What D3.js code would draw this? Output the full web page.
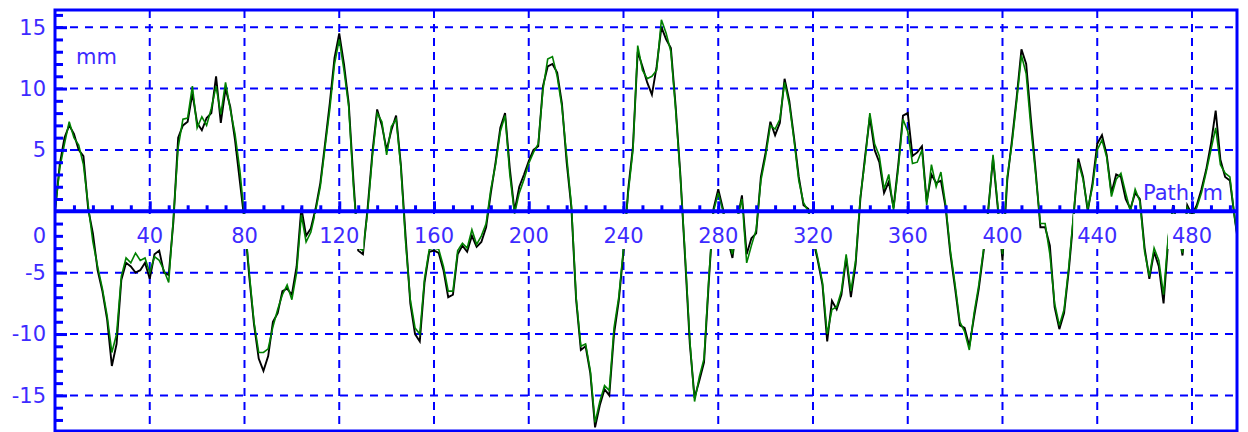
<!DOCTYPE html>
<html>
<head>
<meta charset="utf-8">
<script src="https://cdn.jsdelivr.net/npm/d3@7"></script>
<style>
    body { margin: 0; background: #ffffff; }
    text { font-family: "DejaVu Sans", Verdana, sans-serif; font-size: 21px; }
</style>
</head>
<body>
<div id="chart1"></div>
<script>
// path is sampled every 2 m, from 0 to 500
let pathStep = 2;

// green trace, mm
let greenValues = [
    0, 3.5, 5.5, 7.3, 6.0, 5.4, 3.8, 0.5, -2.5, -4.5,
    -6.3, -8.5, -11.5, -10.0, -5.3, -3.8, -4.2, -3.4, -4.0, -3.8,
    -5.0, -3.7, -4.0, -4.8, -5.8, -0.5, 5.2, 7.5, 7.6, 10.2,
    6.8, 7.7, 7.0, 8.4, 10.2, 7.9, 10.5, 8.3, 6.3, 3.4,
    -0.5, -5.0, -9.0, -11.5, -11.5, -11.2, -9.4, -8.0, -6.8, -6.0,
    -7.2, -5.0, -0.3, -2.5, -1.7, 0, 2.0, 5.2, 8.3, 12.0,
    14.0, 11.5, 8.5, 2.0, -3.0, -3.2, 0, 4.5, 8.0, 7.3,
    4.6, 6.9, 7.5, 3.6, -2.5, -7.2, -9.5, -10.0, -5.5, -3.1,
    -3.0, -3.1, -4.5, -6.5, -6.5, -3.2, -2.6, -3.0, -1.5, -2.7,
    -2.0, -1.0, 1.8, 3.8, 6.5, 7.8, 3.0, -0.2, 1.5, 2.6,
    3.9, 4.8, 5.5, 9.9, 12.4, 12.6, 11.0, 8.5, 4.5, 0.5,
    -7.0, -11.0, -10.8, -13.0, -17.2, -15.5, -14.2, -14.6, -9.5, -7.0,
    -3.0, 1.5, 5.0, 13.5, 11.5, 10.8, 11.0, 11.5, 15.6, 14.5,
    13.0, 8.3, 2.8, -3.5, -10.5, -15.5, -13.5, -12.0, -5.5, 0,
    1.5, 0, -2.0, -3.5, -0.5, 1.0, -4.2, -2.8, -1.5, 2.5,
    4.5, 7.0, 6.7, 7.5, 10.5, 8.7, 5.8, 2.5, 0.7, 0,
    -2.0, -3.8, -5.8, -10.0, -8.0, -7.8, -6.5, -3.5, -6.5, -4.0,
    1.2, 4.2, 8.0, 5.5, 4.5, 1.8, 3.0, 0.1, 3.5, 7.5,
    6.5, 3.9, 4.0, 5.0, 0.5, 3.8, 2.0, 3.2, 0.5, -3.2,
    -6.0, -9.0, -9.8, -11.3, -8.3, -6.0, -3.1, 0, 4.6, 0.5,
    -3.5, 2.8, 5.5, 9.0, 12.7, 11.2, 6.8, 3.0, -1.0, -1.0,
    -3.5, -7.5, -9.3, -8.0, -4.5, -0.2, 4.0, 2.6, 0.2, 2.0,
    5.0, 5.8, 4.4, 1.2, 2.6, 3.1, 1.5, 0, 1.8, 0.8,
    -3.3, -5.3, -3.0, -4.0, -6.8, -2.0, 0.3, -1.5, -3.4, 0.3,
    -0.5, 0.3, 1.5, 3.2, 5.0, 6.8, 3.8, 3.1, 2.8, -0.5,
    -3.1
];

// black trace, mm (mostly hidden under the green one)
let blackValues = [
    0, 3.8, 6.0, 7.0, 6.3, 5.0, 4.5, 0.2, -1.8, -4.8,
    -6.5, -8.8, -12.6, -10.8, -5.6, -4.2, -4.5, -5.0, -4.8, -4.2,
    -5.5, -3.5, -3.2, -5.0, -5.2, -0.8, 6.0, 7.0, 7.3, 9.6,
    7.2, 6.6, 7.6, 8.0, 11.0, 7.2, 10.0, 8.5, 5.8, 2.5,
    -0.8, -5.3, -9.2, -12.0, -13.0, -11.8, -9.0, -8.3, -6.5, -6.3,
    -6.8, -4.5, 0.3, -2.0, -1.4, 0.2, 2.3, 5.5, 8.8, 12.5,
    14.5, 12.0, 8.8, 2.5, -3.2, -3.5, 0.3, 4.8, 8.3, 7.0,
    5.0, 6.6, 7.8, 3.8, -2.0, -7.5, -10.0, -10.6, -5.8, -3.3,
    -3.2, -3.4, -4.8, -7.0, -6.8, -3.5, -2.8, -3.3, -2.0, -2.9,
    -2.5, -1.3, 1.5, 4.0, 6.8, 8.0, 3.5, 0, 2.0, 3.0,
    4.1, 5.0, 5.3, 10.2, 11.8, 12.0, 11.3, 8.8, 4.0, 0.3,
    -7.2, -11.3, -11.0, -13.2, -17.6, -15.8, -14.5, -15.0, -10.0, -7.3,
    -3.3, 1.8, 5.3, 13.0, 11.8, 10.5, 9.5, 11.8, 15.0, 14.0,
    13.3, 8.6, 3.0, -3.8, -10.8, -15.2, -13.8, -12.3, -5.8, 0.2,
    1.8, 0.2, -2.3, -3.8, -0.8, 1.3, -3.5, -2.2, -1.8, 2.8,
    4.8, 7.3, 6.2, 7.2, 10.8, 9.0, 6.0, 2.8, 0.5, 0.2,
    -2.3, -4.0, -6.0, -10.6, -7.3, -8.0, -6.8, -3.8, -7.0, -4.3,
    1.0, 4.5, 7.7, 5.0, 4.0, 1.5, 2.4, 0.3, 3.8, 7.8,
    8.0, 4.5, 4.8, 5.3, 0.8, 3.0, 2.3, 2.5, 0.3, -3.5,
    -6.3, -9.3, -9.5, -11.0, -8.6, -6.3, -3.3, 0.2, 4.3, 0.3,
    -4.0, 2.5, 5.8, 9.3, 13.2, 12.0, 7.5, 3.3, -1.3, -1.3,
    -2.8, -7.8, -9.6, -8.3, -4.8, -0.5, 4.3, 2.8, 0, 2.3,
    5.5, 6.2, 4.6, 1.5, 3.0, 2.8, 1.0, 0.2, 1.5, 1.0,
    -3.0, -5.5, -3.3, -4.5, -7.5, -2.3, 0.5, -1.3, -3.6, 0.5,
    -0.3, 0.5, 1.8, 3.4, 5.5, 8.2, 4.2, 2.8, 2.5, -0.5,
    -3.3
];

let xTickLabels = [40, 80, 120, 160, 200, 240, 280, 320, 360, 400, 440, 480];
let yTickLabels = [-15, -10, -5, 5, 10, 15];
let yUnit = "mm";
let xUnit = "Path, m";

let width = 1248;
let height = 432;
let plotLeft = 55, plotRight = 1237, plotTop = 10, plotBottom = 431;
let blue = "#0000ff";
let textColor = "#3d2bff";

let x = d3.scaleLinear().domain([0, 499]).range([plotLeft, plotRight]);
let y = d3.scaleLinear().domain([-17.9, 16.4]).range([plotBottom, plotTop]);

let svg = d3.select("#chart1")
    .append("svg")
    .attr("width", width)
    .attr("height", height)
    .style("display", "block");

svg.append("rect").attr("width", width).attr("height", height).attr("fill", "#ffffff");

svg.append("clipPath").attr("id", "plotClip")
    .append("rect")
    .attr("x", plotLeft).attr("y", plotTop)
    .attr("width", plotRight - plotLeft).attr("height", plotBottom - plotTop);

// dashed grid
svg.append("g")
    .selectAll("line")
    .data(xTickLabels)
    .enter().append("line")
    .attr("x1", (d) => x(d)).attr("x2", (d) => x(d))
    .attr("y1", plotTop).attr("y2", plotBottom)
    .attr("stroke", blue).attr("stroke-width", 2)
    .attr("stroke-dasharray", "8,6");

svg.append("g")
    .selectAll("line")
    .data(yTickLabels)
    .enter().append("line")
    .attr("x1", plotLeft).attr("x2", plotRight)
    .attr("y1", (d) => y(d)).attr("y2", (d) => y(d))
    .attr("stroke", blue).attr("stroke-width", 2)
    .attr("stroke-dasharray", "8,7");

// traces
let blackData = blackValues.map((v, i) => ({ m: i * pathStep, v: v }));
let greenData = greenValues.map((v, i) => ({ m: i * pathStep, v: v }));

let line = d3.line()
    .x((d) => x(d.m))
    .y((d) => y(d.v));

let traces = svg.append("g").attr("clip-path", "url(#plotClip)");
traces.append("path")
    .datum(blackData)
    .attr("d", line)
    .attr("fill", "none")
    .attr("stroke", "#000000")
    .attr("stroke-width", 1.9);
traces.append("path")
    .datum(greenData)
    .attr("d", line)
    .attr("fill", "none")
    .attr("stroke", "#008000")
    .attr("stroke-width", 1.6);

// x tick labels sit in white boxes under the axis
let xLab = svg.append("g")
    .selectAll("g")
    .data(xTickLabels)
    .enter().append("g");
xLab.append("rect").attr("fill", "#ffffff");
xLab.append("text")
    .attr("x", (d) => x(d))
    .attr("y", 236)
    .attr("dy", "0.35em")
    .attr("text-anchor", "middle")
    .attr("fill", textColor)
    .text((d) => d);
xLab.each(function () {
    let g = d3.select(this);
    let box = g.select("text").node().getBBox();
    g.select("rect")
        .attr("x", box.x - 4).attr("y", 214)
        .attr("width", box.width + 8).attr("height", 35);
});

// zero line (path axis)
svg.append("line")
    .attr("x1", plotLeft).attr("x2", plotRight)
    .attr("y1", y(0)).attr("y2", y(0))
    .attr("stroke", blue).attr("stroke-width", 4);

// ticks along the path axis
let xMinor = d3.axisTop(x)
    .tickValues(d3.range(8, 499, 8).filter((d) => d % 40 !== 0))
    .tickSize(5)
    .tickFormat("");
let xMinorG = svg.append("g")
    .attr("transform", "translate(0," + (y(0) - 1) + ")")
    .style("color", blue)
    .call(xMinor);
xMinorG.select(".domain").remove();
xMinorG.selectAll("line").attr("stroke-width", 3);

let xMajor = d3.axisTop(x)
    .tickValues(xTickLabels)
    .tickSize(9)
    .tickFormat("");
let xMajorG = svg.append("g")
    .attr("transform", "translate(0," + (y(0) - 1) + ")")
    .style("color", blue)
    .call(xMajor);
xMajorG.select(".domain").remove();
xMajorG.selectAll("line").attr("stroke-width", 3);

// ticks on the left side, every mm
let yMinor = d3.axisRight(y)
    .tickValues(d3.range(-17, 17).filter((d) => d % 5 !== 0))
    .tickSize(8)
    .tickFormat("");
let yMinorG = svg.append("g")
    .attr("transform", "translate(" + plotLeft + ",0)")
    .style("color", blue)
    .call(yMinor);
yMinorG.select(".domain").remove();
yMinorG.selectAll("line").attr("stroke-width", 3);

let yMajor = d3.axisRight(y)
    .tickValues(yTickLabels)
    .tickSize(12)
    .tickFormat("");
let yMajorG = svg.append("g")
    .attr("transform", "translate(" + plotLeft + ",0)")
    .style("color", blue)
    .call(yMajor);
yMajorG.select(".domain").remove();
yMajorG.selectAll("line").attr("stroke-width", 3);

// frame
svg.append("rect")
    .attr("x", plotLeft).attr("y", plotTop)
    .attr("width", plotRight - plotLeft).attr("height", plotBottom - plotTop)
    .attr("fill", "none")
    .attr("stroke", blue)
    .attr("stroke-width", 3);

// y tick labels
svg.append("g")
    .selectAll("text")
    .data(yTickLabels)
    .enter().append("text")
    .attr("x", 46)
    .attr("y", (d) => y(d))
    .attr("dy", "0.35em")
    .attr("text-anchor", "end")
    .attr("fill", textColor)
    .text((d) => d);

// zero label is pushed down below the axis line
svg.append("text")
    .attr("x", 46).attr("y", 236).attr("dy", "0.35em")
    .attr("text-anchor", "end")
    .attr("fill", textColor)
    .text("0");

svg.append("text")
    .attr("x", 76).attr("y", 57).attr("dy", "0.35em")
    .attr("fill", textColor)
    .text(yUnit);

svg.append("text")
    .attr("x", 1143).attr("y", 193).attr("dy", "0.35em")
    .attr("fill", textColor)
    .text(xUnit);
</script>
</body>
</html>
